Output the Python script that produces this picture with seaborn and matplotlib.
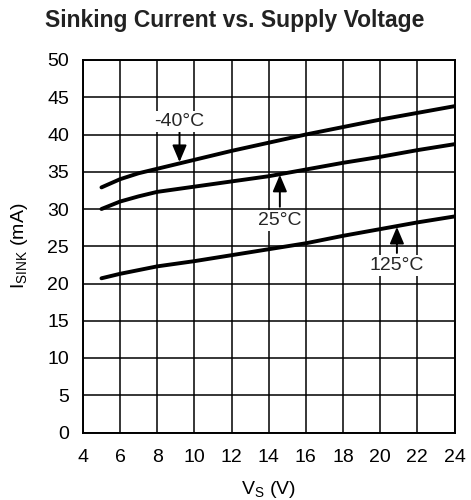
import matplotlib
matplotlib.use("Agg")
import matplotlib.pyplot as plt
import seaborn as sns
import pandas as pd
import numpy as np

# Data
vs = [5, 6, 7, 8, 10, 12, 14, 16, 18, 20, 22, 24]
i_m40 = [32.9, 34.0, 34.8, 35.4, 36.6, 37.8, 38.9, 40.0, 41.0, 42.0, 42.9, 43.8]
i_25 = [30.0, 31.0, 31.7, 32.3, 33.0, 33.7, 34.4, 35.3, 36.2, 37.0, 37.9, 38.7]
i_125 = [20.7, 21.3, 21.8, 22.3, 23.0, 23.8, 24.6, 25.4, 26.4, 27.3, 28.2, 29.0]
temps = ["-40°C", "25°C", "125°C"]

x_ticks = list(range(4, 25, 2))
y_ticks = list(range(0, 51, 5))

df = pd.DataFrame({
    "Vs": vs * 3,
    "Isink": i_m40 + i_25 + i_125,
    "Temp": [temps[0]] * len(vs) + [temps[1]] * len(vs) + [temps[2]] * len(vs),
})

sns.set_theme(style="white")
plt.rcParams["font.family"] = ["Liberation Sans", "DejaVu Sans"]
plt.rcParams["mathtext.fontset"] = "custom"
plt.rcParams["mathtext.rm"] = "Liberation Sans"
plt.rcParams["mathtext.it"] = "Liberation Sans"

fig = plt.figure(figsize=(4.71, 5.0), dpi=100)
ax = fig.add_axes([0.176, 0.135, 0.789, 0.745])

sns.lineplot(data=df, x="Vs", y="Isink", hue="Temp", ax=ax,
             palette=["black"] * 3, linewidth=2.8, legend=False, sort=False)

ax.set_xlim(4, 24)
ax.set_ylim(0, 50)
ax.set_xticks(x_ticks)
ax.set_yticks(y_ticks)
ax.tick_params(axis="both", length=0, labelsize=14, colors="black")
ax.tick_params(axis="x", pad=12)
ax.tick_params(axis="y", pad=10)
ax.grid(True, color="black", linewidth=1.1)
ax.set_axisbelow(True)
for s in ax.spines.values():
    s.set_visible(True)
    s.set_color("black")
    s.set_linewidth(1.4)

ax.set_xlabel(r"V$_{\mathrm{S}}$ (V)", fontsize=14, color="black", labelpad=9)
ax.set_ylabel(r"I$_{\mathrm{SINK}}$ (mA)", fontsize=14, color="black", labelpad=12)
fig.suptitle("Sinking Current vs. Supply Voltage", fontsize=16.5,
             fontweight="bold", color="#222222", x=0.499, y=0.982)

bbox = dict(boxstyle="square,pad=0.1", fc="white", ec="none")
arrow = dict(arrowstyle="-|>,head_length=0.85,head_width=0.36", color="black", lw=1.4,
             shrinkA=0, shrinkB=0)
ax.annotate("", xy=(9.2, 36.3), xytext=(9.2, 40.3), arrowprops=arrow)
ax.text(9.2, 41.8, temps[0], ha="center", va="center", fontsize=14, bbox=bbox)
ax.annotate("", xy=(14.6, 34.6), xytext=(14.6, 30.3), arrowprops=arrow)
ax.text(14.6, 28.4, temps[1], ha="center", va="center", fontsize=14, bbox=bbox)
ax.annotate("", xy=(20.9, 27.6), xytext=(20.9, 24.1), arrowprops=arrow)
ax.text(20.9, 22.4, temps[2], ha="center", va="center", fontsize=14, bbox=bbox)

fig.savefig("out.png", dpi=100)
